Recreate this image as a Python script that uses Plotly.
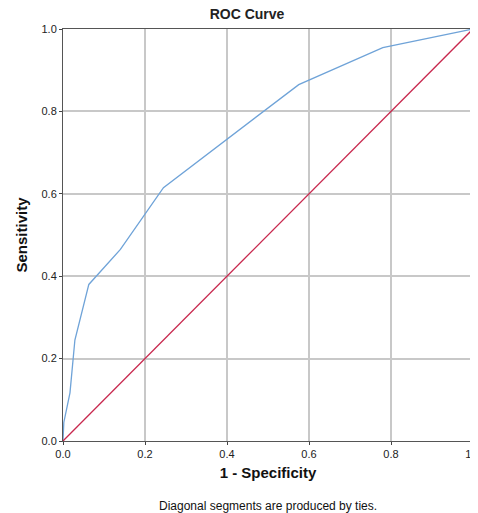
import plotly.graph_objects as go

fpr = [0, 0.002, 0.017, 0.029, 0.063, 0.14, 0.245, 0.575, 0.78, 1.0]
tpr = [0, 0.045, 0.117, 0.245, 0.38, 0.465, 0.615, 0.865, 0.955, 1.0]
ref = [0, 1]
ticks = [0, 0.2, 0.4, 0.6, 0.8, 1.0]
labels = ["0.0", "0.2", "0.4", "0.6", "0.8", "1.0"]

fig = go.Figure()
fig.add_trace(go.Scatter(x=fpr, y=tpr, mode="lines", line=dict(color="#6fa3d8", width=1.3)))
fig.add_trace(go.Scatter(x=ref, y=ref, mode="lines", line=dict(color="#c8284e", width=1.3)))
ax = dict(range=[0, 1], tickvals=ticks, ticktext=labels, showgrid=True, gridcolor="#c8c8c8",
          gridwidth=1.5, zeroline=False, showline=True, linecolor="#555", mirror=True,
          ticks="outside", ticklen=3, tickfont=dict(size=11, color="#222", family="Arial"))
fig.update_layout(
    width=478, height=513, paper_bgcolor="white", plot_bgcolor="white", showlegend=False,
    margin=dict(l=55, r=13, t=21, b=80, autoexpand=False),
    title=dict(text="<b>ROC Curve</b>", x=0.5, xanchor="center", y=0.998, yanchor="top",
               font=dict(size=14, family="Arial", color="#222")),
    xaxis=dict(ax, title=dict(text="<b>1 - Specificity</b>", font=dict(size=15, family="Arial", color="#111"), standoff=8)),
    yaxis=dict(ax, title=dict(text="<b>Sensitivity</b>", font=dict(size=15, family="Arial", color="#111"), standoff=10)),
)
fig.add_annotation(text="Diagonal segments are produced by ties.", xref="paper", yref="paper",
                   x=0.5, y=-0.158, showarrow=False, yanchor="middle",
                   font=dict(size=12, family="Arial", color="#111"))
fig.write_html("out.html")
